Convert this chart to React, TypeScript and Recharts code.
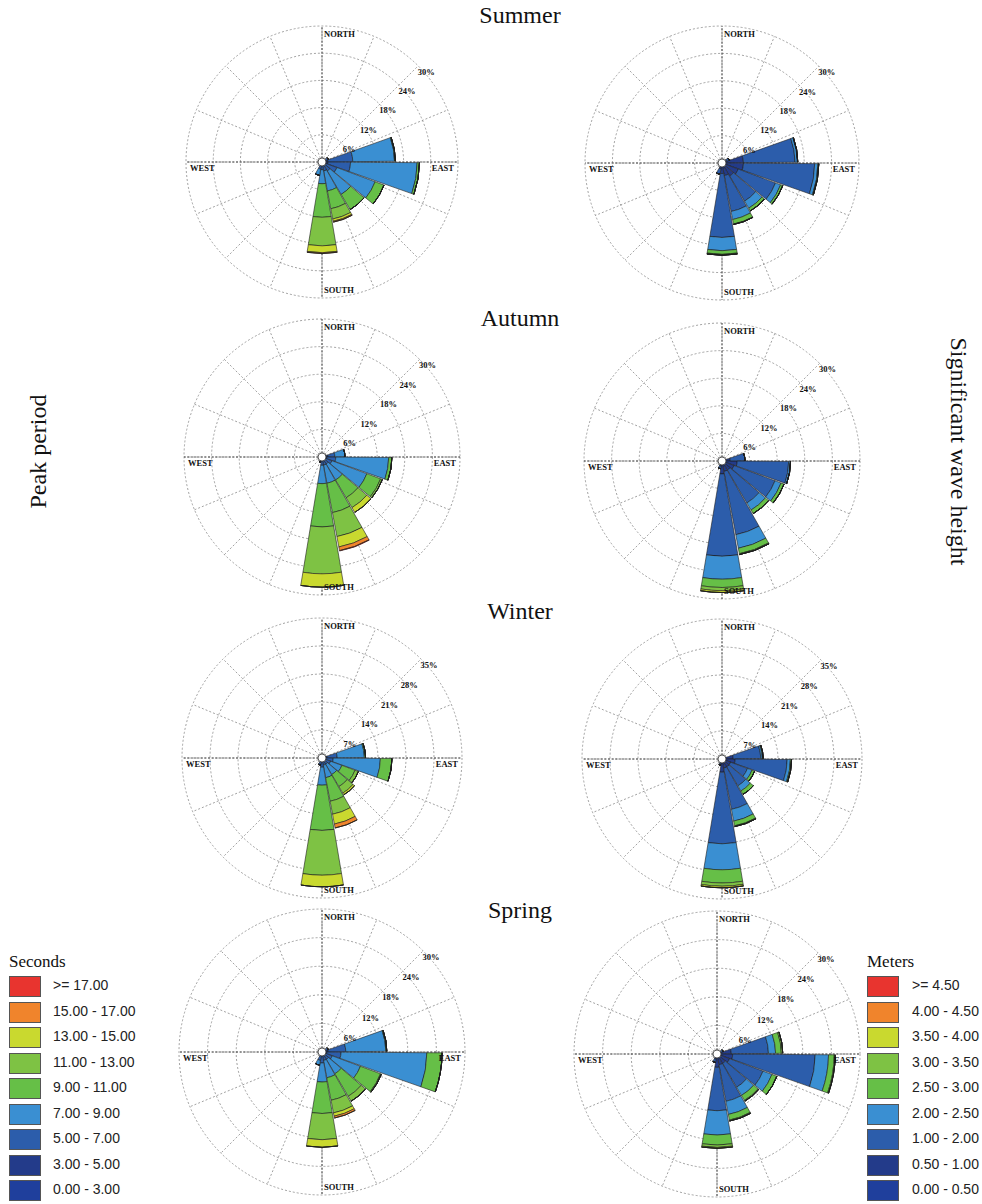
import React from "react";
import {
  RadialBarChart,
  RadialBar,
  PolarGrid,
  PolarAngleAxis,
  PolarRadiusAxis,
} from "recharts";

// 18 direction bins of 20 degrees, clockwise from north
const directions = [
  "0", "20", "40", "60", "80", "100", "120", "140", "160",
  "180", "200", "220", "240", "260", "280", "300", "320", "340",
];

const periodClasses = [
  "0.00 - 3.00", "3.00 - 5.00", "5.00 - 7.00", "7.00 - 9.00", "9.00 - 11.00",
  "11.00 - 13.00", "13.00 - 15.00", "15.00 - 17.00", ">= 17.00",
];
const heightClasses = [
  "0.00 - 0.50", "0.50 - 1.00", "1.00 - 2.00", "2.00 - 2.50", "2.50 - 3.00",
  "3.00 - 3.50", "3.50 - 4.00", "4.00 - 4.50", ">= 4.50",
];
const classColors = [
  "#1f3f9c", "#233b8a", "#2c5dab", "#3a8fd2", "#66bf47",
  "#7ec244", "#c9d92f", "#f0842c", "#e8342f",
];

const ticks30 = [6, 12, 18, 24, 30];
const ticks35 = [7, 14, 21, 28, 35];

// frequency (%) per direction bin, stacked by class (lowest class first)
const summerPeriod: number[][] = [
  [], [], [], [0.2, 0.4, 0.9],
  [0.3, 1.0, 5.5, 9.2, 0.2],
  [0.3, 1.0, 5.0, 14.7, 0.5],
  [0.3, 0.7, 2.5, 9.0, 2.1],
  [0.3, 0.5, 1.5, 6.0, 3.9],
  [0.3, 0.5, 1.2, 4.5, 4.0, 2.3, 0.5, 0.2],
  [0.2, 0.5, 1.0, 3.1, 7.4, 6.3, 1.5, 0.2],
  [0.2, 0.4, 1.0, 1.4],
  [], [], [], [], [], [], [],
];
const summerHeight: number[][] = [
  [], [], [], [0.3, 0.8, 0.6],
  [0.3, 4.4, 11.3, 0.5, 0.1],
  [0.3, 4.4, 15.6, 0.7, 0.2],
  [0.3, 3.5, 8.7, 1.2, 0.5],
  [0.3, 3.0, 6.4, 1.8, 0.7],
  [0.3, 2.5, 8.0, 1.8, 1.0, 0.1],
  [0.3, 2.0, 14.0, 2.9, 0.8, 0.2],
  [0.3, 1.0, 1.2],
  [], [], [], [], [], [], [],
];
const autumnPeriod: number[][] = [
  [], [], [], [0.2, 0.3, 0.3],
  [0.3, 1.0, 1.5, 2.2],
  [0.3, 0.7, 2.0, 11.5, 0.7],
  [0.3, 0.5, 1.5, 8.1, 3.2, 0.4],
  [0.3, 0.5, 1.0, 4.0, 4.5, 2.5, 1.2],
  [0.3, 0.5, 1.0, 4.0, 6.5, 5.3, 2.3, 0.8, 0.1],
  [0.3, 0.5, 1.0, 4.0, 9.4, 10.2, 2.9],
  [0.2, 0.4, 0.6],
  [], [], [], [], [], [], [],
];
const autumnHeight: number[][] = [
  [], [], [], [],
  [0.3, 1.5, 3.2],
  [0.3, 3.0, 11.2, 0.4],
  [0.3, 2.5, 9.5, 1.4, 0.7],
  [0.3, 2.0, 8.3, 1.8, 0.9],
  [0.3, 2.0, 14.0, 3.0, 1.2, 0.2],
  [0.3, 2.5, 17.9, 5.0, 1.8, 0.7, 0.4],
  [0.3, 0.8, 0.6],
  [], [], [], [], [], [], [],
];
const winterPeriod: number[][] = [
  [], [], [], [],
  [0.3, 1.0, 2.5, 6.8, 0.3],
  [0.3, 0.5, 2.0, 11.8, 2.9],
  [0.3, 0.5, 1.5, 3.0, 3.5, 0.9],
  [0.3, 0.5, 1.0, 3.0, 3.5, 1.9, 0.5],
  [0.3, 0.5, 1.0, 3.2, 6.0, 3.3, 2.5, 1.0],
  [0.3, 0.5, 1.5, 4.5, 11.3, 11.2, 2.9],
  [0.3, 0.5, 1.0],
  [], [], [], [], [], [], [],
];
const winterHeight: number[][] = [
  [], [], [], [],
  [0.3, 2.5, 6.9, 0.4, 0.2],
  [0.3, 3.0, 13.0, 0.8, 0.3],
  [0.3, 2.0, 4.5, 1.2, 0.7],
  [0.3, 2.0, 5.5, 1.5, 1.0],
  [0.3, 2.0, 10.5, 3.0, 1.2, 0.2],
  [0.3, 3.0, 17.9, 6.5, 3.3, 0.8, 0.4],
  [0.3, 0.8, 0.5],
  [], [], [], [], [], [], [],
];
const springPeriod: number[][] = [
  [], [], [], [0.2, 0.4, 0.8],
  [0.3, 1.0, 3.7, 8.4, 0.2],
  [0.3, 0.7, 3.0, 18.0, 3.2],
  [0.3, 0.5, 1.5, 6.3, 4.5, 0.2],
  [0.3, 0.5, 1.0, 3.5, 5.5, 1.2],
  [0.3, 0.5, 1.0, 3.7, 4.8, 2.7, 0.7, 0.4],
  [0.3, 0.5, 1.5, 4.0, 6.6, 5.5, 1.6],
  [0.3, 0.5, 1.0, 1.0],
  [], [], [], [], [], [], [],
];
const springHeight: number[][] = [
  [], [], [], [0.3, 0.6, 0.5],
  [0.3, 2.7, 7.8, 1.5, 1.2, 0.3],
  [0.3, 3.0, 17.3, 2.8, 1.2, 0.2],
  [0.3, 2.5, 7.5, 2.0, 1.1],
  [0.3, 2.0, 5.8, 2.0, 1.2, 0.2],
  [0.3, 2.0, 7.8, 2.8, 1.2, 0.2],
  [0.3, 2.5, 9.1, 5.1, 2.1, 0.5, 0.2],
  [0.3, 0.8, 0.7],
  [], [], [], [], [], [], [],
];

const seasons = ["Summer", "Autumn", "Winter", "Spring"];

const spokes = Array.from({ length: 16 }, (_, k) => k * 22.5);
const serif = "'Liberation Serif', 'Times New Roman', serif";
const sans = "'Liberation Sans', Arial, sans-serif";

const PctTick = (props: any) => {
  const { x, y, payload } = props;
  return (
    <text
      x={x + 8}
      y={y + 9}
      textAnchor="middle"
      fontFamily={serif}
      fontWeight="bold"
      fontSize={8.5}
      fill="#111"
    >
      {payload.value}%
    </text>
  );
};

function Rose({ values, x, y, r, max, ticks }: any) {
  const size = 2 * r + 24;
  const c = size / 2;
  const rows = directions.map((d, i) => {
    const row: any = { dir: d };
    classColors.forEach((_, j) => {
      row["c" + j] = values[i][j] ?? 0;
    });
    return row;
  });
  const lbl = {
    fontFamily: serif,
    fontWeight: "bold" as const,
    fontSize: 8.5,
    fill: "#111",
  };
  return (
    <div
      style={{
        position: "absolute",
        left: x - c,
        top: y - c,
        width: size,
        height: size,
      }}
    >
      <RadialBarChart
        width={size}
        height={size}
        data={rows}
        cx={c}
        cy={c}
        innerRadius={0}
        outerRadius={r}
        startAngle={80}
        endAngle={-280}
        layout="centric"
        barCategoryGap="3%"
        margin={{ top: 0, right: 0, bottom: 0, left: 0 }}
      >
        <PolarGrid
          gridType="circle"
          polarAngles={spokes}
          stroke="#8a8a8a"
          strokeDasharray="2 2"
          strokeWidth={0.8}
        />
        <PolarGrid
          gridType="circle"
          polarAngles={[0, 90, 180, 270]}
          polarRadius={[]}
          stroke="#333"
          strokeDasharray="2 1.5"
          strokeWidth={0.8}
        />
        <PolarAngleAxis
          type="category"
          dataKey="dir"
          tick={false}
          axisLine={false}
          tickLine={false}
        />
        <PolarRadiusAxis
          type="number"
          domain={[0, max]}
          ticks={ticks}
          angle={45}
          axisLine={false}
          tickLine={false}
          tick={PctTick}
        />
        {classColors.map((col, j) => (
          <RadialBar
            key={j}
            dataKey={"c" + j}
            stackId="s"
            fill={col}
            stroke="#1c1c1c"
            strokeWidth={0.6}
            isAnimationActive={false}
          />
        ))}
      </RadialBarChart>
      <svg
        width={size}
        height={size}
        style={{ position: "absolute", left: 0, top: 0, pointerEvents: "none" }}
      >
        <text x={c + 2} y={c - r + 11} {...lbl}>NORTH</text>
        <text x={c + 2} y={c + r - 5} {...lbl}>SOUTH</text>
        <text x={c + r - 4} y={c + 9} textAnchor="end" {...lbl}>EAST</text>
        <text x={c - r + 4} y={c + 9} {...lbl}>WEST</text>
        <circle cx={c} cy={c} r={4} fill="#fff" stroke="#333" strokeWidth={0.8} />
      </svg>
    </div>
  );
}

function Legend({ title, labels, x, textX }: any) {
  const items = [...labels].reverse();
  const colors = [...classColors].reverse();
  return (
    <>
      <div
        style={{
          position: "absolute",
          left: x,
          top: 952,
          fontFamily: serif,
          fontSize: 17,
          color: "#111",
        }}
      >
        {title}
      </div>
      {items.map((t: string, k: number) => (
        <React.Fragment key={t}>
          <div
            style={{
              position: "absolute",
              left: x,
              top: 976 + k * 25.5,
              width: 30,
              height: 19,
              background: colors[k],
              border: "1px solid #555",
            }}
          />
          <div
            style={{
              position: "absolute",
              left: textX,
              top: 977 + k * 25.5,
              fontFamily: sans,
              fontSize: 14,
              color: "#222",
              whiteSpace: "nowrap",
            }}
          >
            {t}
          </div>
        </React.Fragment>
      ))}
    </>
  );
}

export default function App() {
  const titleTops = [2, 305, 598, 897];
  return (
    <div
      style={{
        position: "absolute",
        left: 0,
        top: 0,
        width: 982,
        height: 1204,
        background: "#fff",
        overflow: "hidden",
      }}
    >
      {seasons.map((s, i) => (
        <div
          key={s}
          style={{
            position: "absolute",
            left: 420,
            width: 200,
            top: titleTops[i],
            textAlign: "center",
            fontFamily: serif,
            fontSize: 24,
            color: "#111",
          }}
        >
          {s}
        </div>
      ))}
      <Rose values={summerPeriod} x={322} y={162} r={136} max={30} ticks={ticks30} />
      <Rose values={summerHeight} x={722} y={163} r={137} max={30} ticks={ticks30} />
      <Rose values={autumnPeriod} x={322} y={457} r={138} max={30} ticks={ticks30} />
      <Rose values={autumnHeight} x={722} y={461} r={138} max={30} ticks={ticks30} />
      <Rose values={winterPeriod} x={322} y={758} r={140} max={35} ticks={ticks35} />
      <Rose values={winterHeight} x={722} y={759} r={140} max={35} ticks={ticks35} />
      <Rose values={springPeriod} x={322} y={1052} r={143} max={30} ticks={ticks30} />
      <Rose values={springHeight} x={717} y={1054} r={143} max={30} ticks={ticks30} />
      <div
        style={{
          position: "absolute",
          left: 38 - 80,
          top: 452 - 14,
          width: 160,
          textAlign: "center",
          transform: "rotate(-90deg)",
          fontFamily: serif,
          fontSize: 24,
          color: "#111",
        }}
      >
        Peak period
      </div>
      <div
        style={{
          position: "absolute",
          left: 958 - 150,
          top: 452 - 14,
          width: 300,
          textAlign: "center",
          transform: "rotate(90deg)",
          fontFamily: serif,
          fontSize: 24,
          color: "#111",
        }}
      >
        Significant wave height
      </div>
      <Legend title="Seconds" labels={periodClasses} x={9} textX={53} />
      <Legend title="Meters" labels={heightClasses} x={867} textX={912} />
    </div>
  );
}
